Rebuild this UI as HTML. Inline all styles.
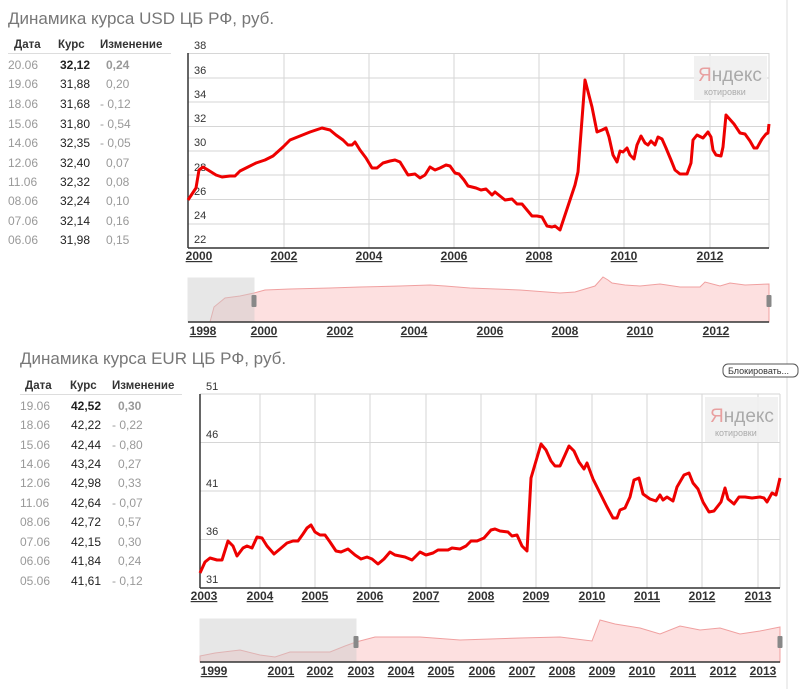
<!DOCTYPE html>
<html><head><meta charset="utf-8"><style>
body{margin:0;background:#fff;width:800px;height:689px;overflow:hidden;font-family:"Liberation Sans",Arial,sans-serif;}
svg{position:absolute;left:0;top:0}
</style></head><body>
<svg width="800" height="689" xmlns="http://www.w3.org/2000/svg" font-family="Liberation Sans, Arial, sans-serif">
<rect x="786" y="0" width="2" height="689" fill="#eee"/>
<!-- USD title and table -->
<text x="8" y="24" font-size="17" fill="#777">Динамика курса USD ЦБ РФ, руб.</text>
<g font-size="11.5" font-weight="bold" fill="#333"><text x="14" y="48">Дата</text><text x="58" y="48">Курс</text><text x="100" y="48">Изменение</text></g>
<line x1="8" y1="53.5" x2="171" y2="53.5" stroke="#ddd"/>
<g font-size="12">
<g fill="#999"><text x="8" y="69">20.06</text><text x="8" y="88">19.06</text><text x="8" y="108">18.06</text><text x="8" y="128">15.06</text><text x="8" y="147">14.06</text><text x="8" y="167">12.06</text><text x="8" y="186">11.06</text><text x="8" y="205">08.06</text><text x="8" y="225">07.06</text><text x="8" y="244">06.06</text></g>
<g fill="#222"><text x="60" y="69" font-weight="bold">32,12</text><text x="60" y="88">31,88</text><text x="60" y="108">31,68</text><text x="60" y="128">31,80</text><text x="60" y="147">32,35</text><text x="60" y="167">32,40</text><text x="60" y="186">32,32</text><text x="60" y="205">32,24</text><text x="60" y="225">32,14</text><text x="60" y="244">31,98</text></g>
<g fill="#999"><text x="106" y="69" font-weight="bold">0,24</text><text x="106" y="88">0,20</text><text x="100" y="108">- 0,12</text><text x="100" y="128">- 0,54</text><text x="100" y="147">- 0,05</text><text x="106" y="167">0,07</text><text x="106" y="186">0,08</text><text x="106" y="205">0,10</text><text x="106" y="225">0,16</text><text x="106" y="244">0,15</text></g>
</g>
<!-- USD plot -->
<g stroke="#d6d6d6" stroke-width="1">
<line x1="188" y1="53.5" x2="769" y2="53.5"/><line x1="188" y1="78" x2="769" y2="78"/><line x1="188" y1="102" x2="769" y2="102"/><line x1="188" y1="126.5" x2="769" y2="126.5"/><line x1="188" y1="151" x2="769" y2="151"/><line x1="188" y1="175" x2="769" y2="175"/><line x1="188" y1="199.5" x2="769" y2="199.5"/><line x1="188" y1="224" x2="769" y2="224"/>
<line x1="284" y1="53" x2="284" y2="248"/><line x1="369" y1="53" x2="369" y2="248"/><line x1="454" y1="53" x2="454" y2="248"/><line x1="539" y1="53" x2="539" y2="248"/><line x1="624" y1="53" x2="624" y2="248"/><line x1="710" y1="53" x2="710" y2="248"/><line x1="769" y1="53" x2="769" y2="248"/>
</g>
<line x1="188" y1="53" x2="188" y2="248" stroke="#333" stroke-width="1.5"/>
<line x1="188" y1="248" x2="769" y2="248" stroke="#333" stroke-width="1.5"/>
<g font-size="11" fill="#333"><text x="194" y="49">38</text><text x="194" y="74">36</text><text x="194" y="98">34</text><text x="194" y="122">32</text><text x="194" y="146">30</text><text x="194" y="171">28</text><text x="194" y="195">26</text><text x="194" y="219">24</text><text x="194" y="243">22</text></g>
<rect x="694" y="56" width="73" height="44" fill="#f0f0f0" opacity="0.9"/>
<text x="698" y="81" font-size="19" fill="#aaa"><tspan fill="#e8a0a0">Я</tspan>ндекс</text>
<text x="704" y="95" font-size="9" fill="#aaa">котировки</text>
<polyline fill="none" stroke="#e00" stroke-width="3" stroke-linejoin="round" points="188,200 196,188 199,170 203,167 208,170 216,175 222,177 230,176 235,176 240,171 248,167 256,163 265,160 273,156 283,147 290,140 300,136 310,132 322,128 330,130 336,135 343,140 348,145 352,145 355,142 360,150 366,158 372,168 377,168 383,163 390,161 395,160 400,162 408,175 415,174 420,178 425,175 430,167 435,170 440,168 446,165 450,166 455,173 459,174 464,180 468,186 476,188 481,190 486,189 492,195 495,192 500,196 505,200 512,199 517,204 522,204 527,210 532,216 537,216 542,217 547,226 552,227 555,226 560,230 565,215 570,200 575,185 578,172 585,80 592,107 597,132 602,130 606,128 609,137 613,155 617,162 620,151 623,152 627,148 630,155 634,159 637,145 641,136 645,143 648,145 651,141 655,145 658,137 662,139 666,148 671,160 675,170 680,174 687,174 691,163 693,140 697,135 703,138 708,132 711,137 713,150 716,155 721,156 723,147 726,115 734,124 740,133 745,134 750,141 754,148 757,148 762,139 766,134 768,133 769,124"/>
<g font-size="12" font-weight="bold" fill="#333" text-anchor="middle" text-decoration="underline"><text x="199" y="260">2000</text><text x="284" y="260">2002</text><text x="369" y="260">2004</text><text x="454" y="260">2006</text><text x="539" y="260">2008</text><text x="624" y="260">2010</text><text x="710" y="260">2012</text></g>
<!-- USD minimap -->
<polygon fill="#fde0e0" stroke="#f0a0a0" stroke-width="1" points="188,322 210,322 214,307 225,298 240,296 254,293 265,290 290,289 330,288 360,287 400,286 430,285 445,286 470,288 520,290 560,293 575,292 595,286 603,277 608,280 612,283 625,285 640,286 660,284 680,287 700,287 705,282 720,286 730,283 745,285 769,284 769,322"/>
<rect x="188" y="278" width="66" height="44" fill="#ccc" opacity="0.45" stroke="#ccc"/>
<line x1="188" y1="322" x2="769" y2="322" stroke="#333" stroke-width="1.5"/>
<rect x="251.5" y="295" width="5" height="12" fill="#888" rx="1"/>
<rect x="766.5" y="295" width="5" height="12" fill="#888" rx="1"/>
<g font-size="12" font-weight="bold" fill="#333" text-anchor="middle" text-decoration="underline"><text x="203" y="335">1998</text><text x="264" y="335">2000</text><text x="340" y="335">2002</text><text x="414" y="335">2004</text><text x="490" y="335">2006</text><text x="565" y="335">2008</text><text x="640" y="335">2010</text><text x="716" y="335">2012</text></g>

<!-- EUR title and table -->
<text x="20" y="364" font-size="17" fill="#777">Динамика курса EUR ЦБ РФ, руб.</text>
<g font-size="11.5" font-weight="bold" fill="#333"><text x="25" y="389">Дата</text><text x="70" y="389">Курс</text><text x="112" y="389">Изменение</text></g>
<line x1="20" y1="394.5" x2="182" y2="394.5" stroke="#ddd"/>
<g font-size="12">
<g fill="#999"><text x="20" y="410">19.06</text><text x="20" y="429">18.06</text><text x="20" y="449">15.06</text><text x="20" y="468">14.06</text><text x="20" y="487">12.06</text><text x="20" y="507">11.06</text><text x="20" y="526">08.06</text><text x="20" y="546">07.06</text><text x="20" y="565">06.06</text><text x="20" y="585">05.06</text></g>
<g fill="#222"><text x="71" y="410" font-weight="bold">42,52</text><text x="71" y="429">42,22</text><text x="71" y="449">42,44</text><text x="71" y="468">43,24</text><text x="71" y="487">42,98</text><text x="71" y="507">42,64</text><text x="71" y="526">42,72</text><text x="71" y="546">42,15</text><text x="71" y="565">41,84</text><text x="71" y="585">41,61</text></g>
<g fill="#999"><text x="118" y="410" font-weight="bold">0,30</text><text x="112" y="429">- 0,22</text><text x="112" y="449">- 0,80</text><text x="118" y="468">0,27</text><text x="118" y="487">0,33</text><text x="112" y="507">- 0,07</text><text x="118" y="526">0,57</text><text x="118" y="546">0,30</text><text x="118" y="565">0,24</text><text x="112" y="585">- 0,12</text></g>
</g>
<rect x="723" y="364" width="75" height="13" rx="5" fill="#fff" stroke="#555"/>
<text x="728" y="374" font-size="9" fill="#333">Блокировать...</text>
<!-- EUR plot -->
<g stroke="#d6d6d6" stroke-width="1">
<line x1="200" y1="394" x2="780" y2="394"/><line x1="200" y1="442.5" x2="780" y2="442.5"/><line x1="200" y1="491" x2="780" y2="491"/><line x1="200" y1="539.5" x2="780" y2="539.5"/>
<line x1="260" y1="394" x2="260" y2="588"/><line x1="315" y1="394" x2="315" y2="588"/><line x1="370" y1="394" x2="370" y2="588"/><line x1="426" y1="394" x2="426" y2="588"/><line x1="481" y1="394" x2="481" y2="588"/><line x1="536" y1="394" x2="536" y2="588"/><line x1="592" y1="394" x2="592" y2="588"/><line x1="647" y1="394" x2="647" y2="588"/><line x1="702" y1="394" x2="702" y2="588"/><line x1="758" y1="394" x2="758" y2="588"/><line x1="780" y1="394" x2="780" y2="588"/>
</g>
<line x1="200" y1="394" x2="200" y2="588" stroke="#333" stroke-width="1.5"/>
<line x1="200" y1="588" x2="780" y2="588" stroke="#333" stroke-width="1.5"/>
<g font-size="11" fill="#333"><text x="206" y="390">51</text><text x="206" y="438">46</text><text x="206" y="487">41</text><text x="206" y="535">36</text><text x="206" y="583">31</text></g>
<rect x="705" y="397" width="73" height="45" fill="#f0f0f0" opacity="0.9"/>
<text x="710" y="422" font-size="19" fill="#aaa"><tspan fill="#e8a0a0">Я</tspan>ндекс</text>
<text x="715" y="436" font-size="9" fill="#aaa">котировки</text>
<polyline fill="none" stroke="#e00" stroke-width="3" stroke-linejoin="round" points="200,573 205,562 210,558 217,560 222,560 228,541 233,546 237,556 243,548 247,546 252,548 257,537 262,538 267,546 274,554 280,549 287,543 293,541 298,541 303,534 307,528 311,525 315,532 320,535 325,535 330,542 336,551 341,552 348,549 355,555 361,559 367,557 372,559 378,564 384,559 390,552 395,555 400,556 405,557 412,560 420,552 426,555 433,553 438,550 448,550 452,548 460,549 466,546 471,541 477,541 484,538 491,530 495,529 500,531 508,532 512,536 517,535 522,546 527,551 531,478 541,444 546,450 551,461 555,466 560,466 565,455 569,446 574,451 579,462 584,469 587,463 593,479 600,493 607,507 613,518 617,518 620,510 625,508 630,497 634,480 639,478 643,494 650,499 656,501 660,495 663,500 667,497 673,501 677,487 684,475 689,473 693,483 698,489 703,502 709,512 714,511 721,502 725,488 728,499 734,504 739,497 745,497 752,498 760,497 764,498 767,502 772,493 776,495 780,478"/>
<g font-size="12" font-weight="bold" fill="#333" text-anchor="middle" text-decoration="underline"><text x="204" y="600">2003</text><text x="260" y="600">2004</text><text x="315" y="600">2005</text><text x="370" y="600">2006</text><text x="426" y="600">2007</text><text x="481" y="600">2008</text><text x="536" y="600">2009</text><text x="592" y="600">2010</text><text x="647" y="600">2011</text><text x="702" y="600">2012</text><text x="758" y="600">2013</text></g>
<!-- EUR minimap -->
<polygon fill="#fde0e0" stroke="#f0a0a0" stroke-width="1" points="200,656 215,653 240,650 260,655 275,657 290,652 330,652 345,646 356,642 375,637 420,637 460,640 520,638 560,637 592,641 600,620 615,624 640,628 660,634 680,626 700,630 720,628 740,634 760,631 780,627 780,662 200,662"/>
<rect x="200" y="619" width="156" height="43" fill="#ccc" opacity="0.45" stroke="#ccc"/>
<line x1="200" y1="662" x2="780" y2="662" stroke="#333" stroke-width="1.5"/>
<rect x="353.5" y="636" width="5" height="12" fill="#888" rx="1"/>
<rect x="777.5" y="636" width="5" height="12" fill="#888" rx="1"/>
<g font-size="12" font-weight="bold" fill="#333" text-anchor="middle" text-decoration="underline"><text x="214" y="675">1999</text><text x="281" y="675">2001</text><text x="320" y="675">2002</text><text x="361" y="675">2003</text><text x="401" y="675">2004</text><text x="441" y="675">2005</text><text x="482" y="675">2006</text><text x="522" y="675">2007</text><text x="562" y="675">2008</text><text x="602" y="675">2009</text><text x="642" y="675">2010</text><text x="683" y="675">2011</text><text x="723" y="675">2012</text><text x="763" y="675">2013</text></g>
</svg>
</body></html>
